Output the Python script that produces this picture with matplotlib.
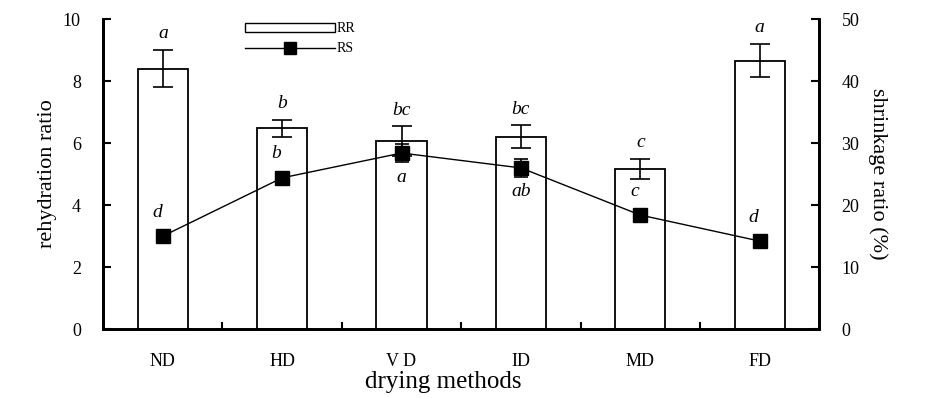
import matplotlib.pyplot as plt
import numpy as np
from matplotlib.patches import Patch
from matplotlib.lines import Line2D

plt.rcParams['font.family'] = ['Liberation Serif', 'DejaVu Serif']

methods = ["ND", "HD", "V D", "ID", "MD", "FD"]
rr = [8.4, 6.48, 6.06, 6.2, 5.16, 8.66]
rr_err = [0.6, 0.27, 0.48, 0.37, 0.32, 0.54]
rr_letters = ["a", "b", "bc", "bc", "c", "a"]
rs = [15.0, 24.4, 28.4, 26.0, 18.4, 14.2]
rs_err = [0.4, 0.9, 1.4, 1.5, 0.5, 0.4]
rs_letters = ["d", "b", "a", "ab", "c", "d"]
rs_above = [True, True, False, False, True, True]

x = np.arange(len(methods))

fig = plt.figure(figsize=(9.29, 3.98), dpi=100)
ax = fig.add_axes([0.111, 0.173, 0.771, 0.779])
ax2 = ax.twinx()

ax.bar(x, rr, width=0.42, color="white", edgecolor="black", linewidth=1.3, zorder=2)
ax.errorbar(x, rr, yerr=rr_err, fmt="none", ecolor="black", elinewidth=1.2, capsize=7, capthick=1.2, zorder=3)
for xi, v, e, t in zip(x, rr, rr_err, rr_letters):
    ax.text(xi, v + e + 0.25, t, ha="center", va="bottom", style="italic", fontsize=14)

ax2.errorbar(x, rs, yerr=rs_err, fmt="none", ecolor="black", elinewidth=1.2, capsize=5, capthick=1.2, zorder=3)
ax2.plot(x, rs, color="black", lw=1, marker="s", markersize=10, zorder=4)
for xi, v, t, up in zip(x, rs, rs_letters, rs_above):
    if up:
        ax2.text(xi - 0.05, v + 2.5, t, ha="center", va="bottom", style="italic", fontsize=14)
    else:
        ax2.text(xi, v - 2.5, t, ha="center", va="top", style="italic", fontsize=14)

ax.set_xlim(-0.5, 5.5)
ax.set_ylim(0, 10)
ax2.set_ylim(0, 50)
ax.set_yticks([0, 2, 4, 6, 8, 10])
ax2.set_yticks([0, 10, 20, 30, 40, 50])

ax.set_xticks(np.arange(0.5, 5.5, 1))
ax.set_xticklabels([])
ax.set_xticks(x, minor=True)
ax.set_xticklabels(methods, minor=True, fontsize=13)
ax.tick_params(axis="x", which="minor", length=0, pad=17)
ax.tick_params(axis="x", which="major", direction="in", length=5, width=1.5)
ax.tick_params(axis="y", direction="in", length=6, width=1.5, labelsize=13, pad=16)
ax2.tick_params(axis="y", direction="in", length=6, width=1.5, labelsize=13, pad=16)

for a in (ax, ax2):
    a.spines["top"].set_visible(False)
    for s in ("left", "right", "bottom"):
        a.spines[s].set_linewidth(2)

ax.set_ylabel("rehydration ratio", fontsize=16, labelpad=4)
ax2.set_ylabel("shrinkage ratio (%)", fontsize=16, rotation=270, labelpad=20)
ax.set_xlabel("drying methods", fontsize=18)
ax.xaxis.label.set_va("center")
ax.xaxis.set_label_coords(0.475, -0.172)

handles = [Patch(facecolor="white", edgecolor="black", linewidth=1),
           Line2D([], [], color="black", lw=1, marker="s", markersize=9)]
ax.legend(handles, ["RR", "RS"], frameon=False, fontsize=10, handlelength=6.5,
          handleheight=0.6, handletextpad=0.1, labelspacing=0.5,
          loc="upper left", bbox_to_anchor=(0.18, 1.03))

fig.savefig("out.png", dpi=100)
